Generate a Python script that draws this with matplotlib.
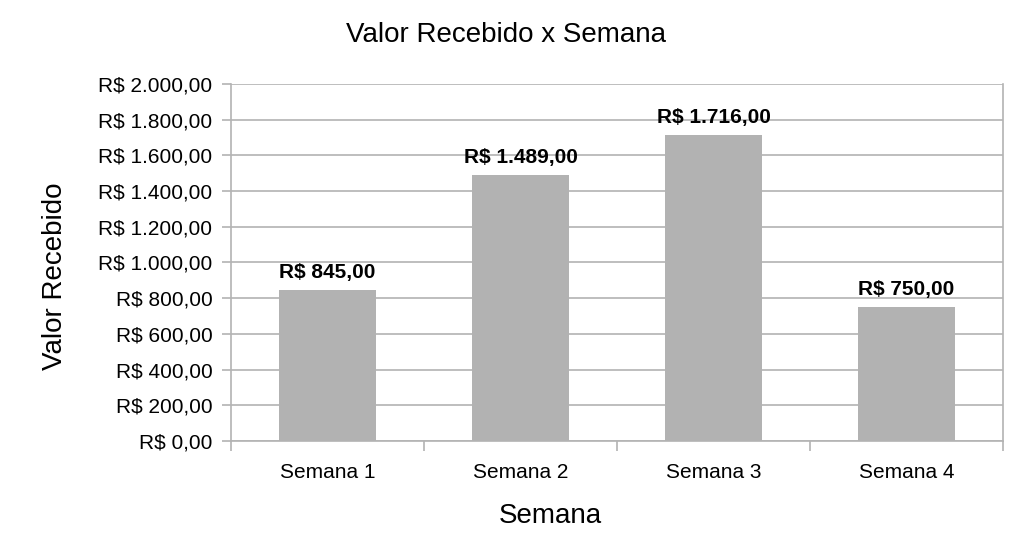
import matplotlib
matplotlib.use("Agg")
import matplotlib.pyplot as plt
from matplotlib.ticker import FuncFormatter, FixedLocator

semanas = ["Semana 1", "Semana 2", "Semana 3", "Semana 4"]
valores = [845, 1489, 1716, 750]
y_ticks = list(range(0, 2001, 200))


def brl(v, pos=None):
    s = f"{v:,.2f}"
    s = s.replace(",", "X").replace(".", ",").replace("X", ".")
    return "R$ " + s


plt.rcParams["font.family"] = ["Liberation Sans", "DejaVu Sans"]

fig = plt.figure(figsize=(10.11, 5.37), dpi=100)
ax = fig.add_axes([0.2285, 0.1788, 0.7635, 0.6648])

grid_c = "#b3b3b3"
x = list(range(len(semanas)))
ax.bar(x, valores, width=0.5, color="#b2b2b2", zorder=2)

# rotulos de dados acima das barras
for xi, v in zip(x, valores):
    ax.annotate(brl(v), (xi, v), xytext=(0, 8.5), textcoords="offset points",
                ha="center", va="baseline", fontsize=15, fontweight="bold",
                color="#000000")

ax.set_xlim(-0.5, 3.5)
ax.set_ylim(0, 2000)
ax.set_yticks(y_ticks)
ax.yaxis.set_major_formatter(FuncFormatter(brl))
ax.set_xticks(x)
ax.set_xticklabels(semanas)
ax.xaxis.set_minor_locator(FixedLocator([-0.5, 0.5, 1.5, 2.5, 3.5]))

ax.grid(axis="y", color=grid_c, linewidth=1.2, zorder=0)
for s in ["left", "right", "bottom"]:
    ax.spines[s].set_color(grid_c)
    ax.spines[s].set_linewidth(1.2)
ax.spines["top"].set_visible(False)

ax.tick_params(axis="y", length=6.5, color=grid_c, width=1.2, labelsize=15, pad=7)
ax.tick_params(axis="x", which="major", length=0, labelsize=15, pad=15.5)
ax.tick_params(axis="x", which="minor", length=7, color=grid_c, width=1.2)

fig.text(0.5, 1 - 35 / 537, "Valor Recebido x Semana", fontsize=20,
         ha="center", va="center")
fig.text(550 / 1011, 1 - 516 / 537, "Semana", fontsize=20,
         ha="center", va="center")
fig.text(55 / 1011, 1 - 276 / 537, "Valor Recebido", fontsize=20,
         ha="center", va="center", rotation=90)

fig.savefig("out.png", dpi=100)
